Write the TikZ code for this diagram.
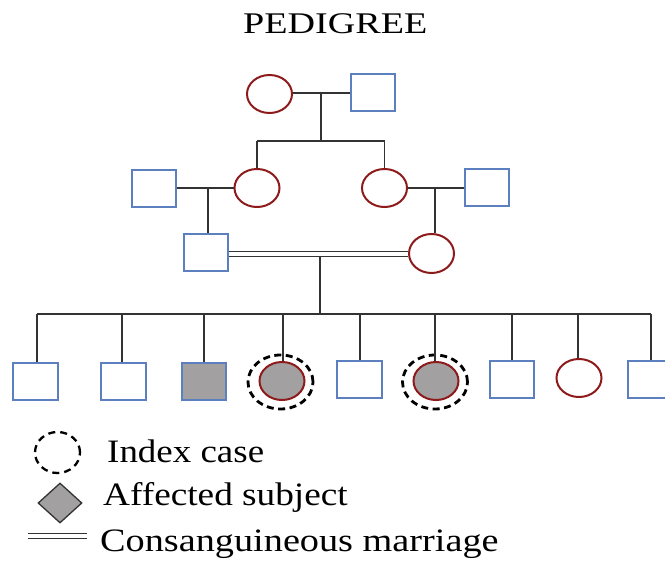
\documentclass[tikz,border=0pt]{standalone}
\usepackage{fontspec}
\setmainfont{Liberation Serif}
\usetikzlibrary{shapes.geometric}
\definecolor{fred}{HTML}{8E1B1B}
\definecolor{mblue}{HTML}{5B7FBF}
\definecolor{afill}{HTML}{A2A0A0}
\definecolor{lk}{HTML}{333333}
\tikzset{
  fem/.style={ellipse, draw=fred, line width=2pt, minimum width=45pt, minimum height=38pt, inner sep=0pt},
  mal/.style={rectangle, draw=mblue, line width=2pt, minimum width=44pt, minimum height=37pt, inner sep=0pt},
  aff/.style={fill=afill},
  ring/.style={ellipse, draw=black, line width=2.8pt, dash pattern=on 7pt off 4.5pt, minimum width=65pt, minimum height=54pt, inner sep=0pt},
  link/.style={draw=lk, line width=1.3pt},
  cons/.style={draw=lk, line width=1.1pt, double=white, double distance=4.5pt},
  lbl/.style={anchor=base west, inner sep=0pt, font=\fontsize{32.7}{36}\selectfont},
}
\begin{document}
\begin{tikzpicture}[x=1pt,y=-1pt]
\useasboundingbox (0,0) rectangle (665,565);
% title
\node[anchor=base west, inner sep=0pt, font=\fontsize{30}{34}\selectfont] (title) at (243,33) {\scalebox{1.27}[1]{PEDIGREE}};
% generation 1
\node[fem] (f1) at (269.5,94) {};
\node[mal] (m1) at (373,92.5) {};
\coordinate (c1) at (321,93);
\coordinate (s1) at (321,141);
\coordinate (s1l) at (257,141);
\coordinate (s1r) at (384.5,141);
% generation 2
\node[mal] (m2a) at (153.5,188) {};
\node[fem] (f2a) at (257,188) {};
\node[fem] (f2b) at (384.5,188) {};
\node[mal] (m2b) at (486.5,187) {};
\coordinate (c2a) at (208,188);
\coordinate (c2b) at (435,188);
% generation 3
\node[mal] (m3) at (205.5,252.5) {};
\node[fem, minimum height=39pt] (f3) at (431.5,253.5) {};
\coordinate (c3) at (320,257);
\coordinate (s3) at (320,314);
\coordinate (s3l) at (37,314);
\coordinate (s3r) at (651,314);
% generation 4
\node[mal, minimum width=45pt] (k1) at (35.5,381.5) {};
\node[mal, minimum width=45pt] (k2) at (123,381.5) {};
\node[mal, aff] (k3) at (204,381.5) {};
\node[fem, aff] (k4) at (282,381) {};
\node[ring] (r4) at (280.5,382) {};
\node[mal, minimum width=45pt] (k5) at (359.5,379.5) {};
\node[fem, aff] (k6) at (436,381) {};
\node[ring] (r6) at (435,382) {};
\node[mal] (k7) at (512,379.5) {};
\node[fem] (k8) at (579,378) {};
\node[mal, minimum width=45pt] (k9) at (650.5,379.5) {};
% connectors
\draw[link] (f1.east |- c1) -- (m1.west |- c1);
\draw[link] (c1) -- (s1);
\draw[link] (s1l) -- (s1r);
\draw[link] (s1l) -- (f2a.north);
\draw[link] (s1r) -- (f2b.north);
\draw[link] (m2a.east |- c2a) -- (f2a.west |- c2a);
\draw[link] (f2b.east |- c2b) -- (m2b.west |- c2b);
\draw[link] (c2a) -- (c2a |- m3.north);
\draw[link] (c2b) -- (c2b |- f3.north);
\draw[cons] (m3.east |- 0,254) -- (f3.west |- 0,254);
\draw[link] (c3) -- (s3);
\draw[link] (s3l) -- (s3r);
\foreach \k/\x in {k1/37,k2/122,k3/204,k4/283,k5/360,k6/435,k7/512,k8/578,k9/651}
  \draw[link] (\x,314) -- (\x,314 |- \k.north);
% legend
\node[ellipse, draw=black, line width=2.3pt, dash pattern=on 7pt off 5pt, minimum width=45pt, minimum height=41pt, inner sep=0pt] (lg1) at (57.5,452.5) {};
\node[lbl] (t1) at (107,462) {\scalebox{1.13}[1]{Index case}};
\node[diamond, draw=lk, fill=afill, line width=1.3pt, minimum width=44pt, minimum height=40pt, inner sep=0pt] (lg2) at (60,503) {};
\node[lbl] (t2) at (103,505) {\scalebox{1.14}[1]{Affected subject}};
\coordinate (lg3a) at (28,536);
\coordinate (lg3b) at (87,536);
\draw[cons] (lg3a) -- (lg3b);
\node[lbl] (t3) at (100,551) {\scalebox{1.17}[1]{Consanguineous marriage}};
\end{tikzpicture}
\end{document}
